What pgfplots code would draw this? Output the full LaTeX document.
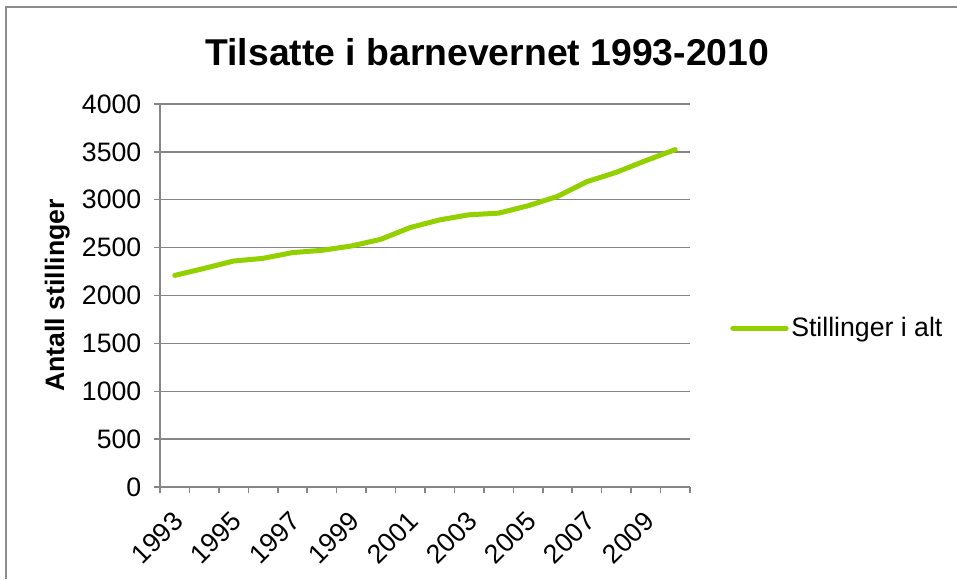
\documentclass[border=0pt]{standalone}
\usepackage{pgfplots}
\pgfplotsset{compat=1.18}
\usepackage{fontspec}
\setmainfont{Liberation Sans}
\definecolor{linegreen}{HTML}{92D000}
\definecolor{axgray}{HTML}{868686}
\definecolor{framegray}{HTML}{8C8C8C}
\begin{document}
\begin{tikzpicture}
\path[use as bounding box] (0pt,0pt) rectangle (717.75pt,434.25pt);
\draw[framegray, line width=1.5pt] (4.5pt,0pt) -- (4.5pt,429pt) -- (717.75pt,429pt);
\node[font=\fontsize{28}{32}\selectfont\bfseries, anchor=base] at (365.5pt,385pt) {Tilsatte i barnevernet 1993-2010};
\begin{axis}[
  at={(120pt,69pt)}, anchor=south west,
  scale only axis, width=397.5pt, height=287.25pt,
  xmin=-0.5, xmax=17.5, ymin=0, ymax=4000,
  axis x line*=bottom, axis y line*=left,
  axis line style={axgray, line width=1.1pt, -},
  xtick={0,2,...,16},
  xticklabels={1993,1995,1997,1999,2001,2003,2005,2007,2009},
  major x tick style={draw=none},
  minor xtick={-0.5,0.5,...,17.5},
  minor x tick style={axgray, line width=1.1pt},
  minor tick length=4.5pt,
  ytick={0,500,...,4000},
  major tick length=4.5pt,
  y tick style={axgray, line width=1.1pt},
  tick align=outside,
  ymajorgrids, grid style={axgray, line width=1.1pt},
  /pgf/number format/assume math mode=true,
  /pgf/number format/1000 sep={},
  tick label style={font=\fontsize{20}{23}\selectfont},
  yticklabel style={xshift=-6pt},
  xticklabel style={xshift=5pt, yshift=-15.5pt, rotate=45, anchor=east},
  ylabel={Antall stillinger},
  ylabel style={font=\fontsize{20}{23}\selectfont\bfseries, at={(axis description cs:-0.1937,0.5)}, anchor=center},
  legend style={at={(axis description cs:1.0755,0.415)}, anchor=west, draw=none, fill=none, font=\fontsize{20}{23}\selectfont, inner sep=0pt, nodes={inner sep=2pt}},
  legend image code/.code={\draw[#1, line cap=round] (0pt,0pt) -- (40pt,0pt);},
]
\addplot[linegreen, line width=3.75pt, line cap=round, line join=round] coordinates {
(0,2210) (1,2283) (2,2360) (3,2388) (4,2448) (5,2472) (6,2517) (7,2587)
(8,2710) (9,2790) (10,2843) (11,2860) (12,2937) (13,3035) (14,3189)
(15,3287) (16,3409) (17,3524)
};
\addlegendentry{Stillinger i alt}
\end{axis}
\end{tikzpicture}
\end{document}
